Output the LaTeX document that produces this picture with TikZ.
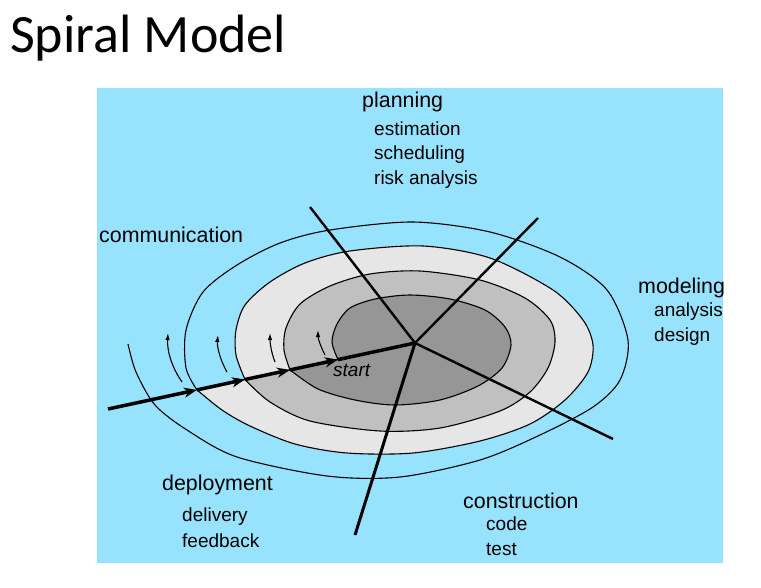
\documentclass[tikz,border=0pt]{standalone}
\usepackage{fontspec}
\setmainfont{Liberation Sans}
\newfontfamily\titlefont{Carlito}
\usetikzlibrary{arrows.meta}
\definecolor{PanelBlue}{HTML}{97E2FC}
\definecolor{RingDark}{HTML}{969696}
\definecolor{RingMid}{HTML}{C0C0C0}
\definecolor{RingLight}{HTML}{E6E6E6}

\begin{document}
\begin{tikzpicture}[x=1pt, y=-1pt,
                    every node/.style={inner sep=0pt, anchor=base west},
                    phasetext/.style={font=\fontsize{21.4}{25}\selectfont},
                    tasktext/.style={font=\fontsize{19}{23}\selectfont},
                    spiralturn/.style={line width=1.1pt, smooth, tension=0.5},
                    radial/.style={line width=2.4pt},
                    entryline/.style={line width=3.5pt, -{Stealth[length=13pt, width=10pt, inset=4pt]}},
                    loopcue/.style={line width=1.1pt, -{Latex[length=7pt, width=4.5pt]}}]
\useasboundingbox (0,0) rectangle (761,587);
\node[font=\titlefont\fontsize{54}{60}\selectfont] (title) at (10,52.3) {Spiral Model};
\fill[PanelBlue] (97,88) rectangle (723,563);
\begin{scope}
\clip (97,88) rectangle (723,563);
\coordinate (entry) at (108,409);
\coordinate (hub) at (415,343);
\coordinate (c0) at (338,359.6);
\coordinate (c1) at (290,369.9);
\coordinate (c2) at (245,379.5);
\coordinate (c3) at (197,389.9);
\coordinate (planEnd) at (310,207);
\coordinate (modelEnd) at (538,218);
\coordinate (buildEnd) at (613,439);
\coordinate (deployEnd) at (355,535);
\filldraw[spiralturn, fill=RingLight] plot coordinates {(c2) (236,355) (236,330) (245,305) (270,282) (305,263)
  (350,251) (423,246) (490,258) (553,290) (583,320) (593,345) (588,372) (565,400) (530,424) (480,441)
  (413,453) (347,453) (295,444) (250,426) (222,410) (c3)} -- cycle;
\filldraw[spiralturn, fill=RingMid] plot coordinates {(c1) (284,350) (286,328) (300,304) (330,286) (370,274)
  (420,271) (480,280) (525,298) (550,320) (555,342) (548,368) (530,392) (500,411) (440,428) (380,431)
  (310,421) (270,402) (c2)} -- cycle;
\filldraw[spiralturn, fill=RingDark] plot coordinates {(c0) (332,342) (337,324) (350,308) (375,299) (410,295)
  (450,299) (485,310) (505,327) (511,345) (502,368) (478,386) (440,400) (395,405) (355,400) (318,389) (c1)} -- cycle;
\draw[spiralturn] plot coordinates {(c3) (186,368) (186,330) (203,292) (237,265) (280,243) (330,230) (413,222)
  (490,232) (560,257) (607,290) (628,340) (620,380) (593,407) (540,435) (480,460) (400,477) (327,476)
  (237,457) (187,430) (155,405) (136,372) (128,344)};
\draw[radial] (hub) -- (planEnd);
\draw[radial] (hub) -- (modelEnd);
\draw[radial] (hub) -- (buildEnd);
\draw[line width=3pt] (hub) -- (deployEnd);
\draw[entryline] (entry) -- (c3);
\draw[entryline] (c3) -- (c2);
\draw[entryline] (c2) -- (c1);
\draw[entryline] (c1) -- (c0);
\draw[line width=3.5pt] (c0) -- (hub);
\draw[loopcue] (182,382) .. controls (171,366) and (167,350) .. (168,333);
\draw[loopcue] (227,372) .. controls (219,358) and (217,345) .. (218,335);
\draw[loopcue] (275,362) .. controls (271,352) and (270,342) .. (270,333);
\draw[loopcue] (325,355) .. controls (320,345) and (318,338) .. (318,330);
\node[phasetext] (planning) at (362,107.3) {planning};
\node[tasktext] (estimation) at ([shift={(12,28)}]planning.base west) {estimation};
\node[tasktext] (scheduling) at ([shift={(0,24.4)}]estimation.base west) {scheduling};
\node[tasktext] (risk) at ([shift={(0,25)}]scheduling.base west) {risk analysis};
\node[phasetext] (modeling) at (638,293.3) {modeling};
\node[tasktext] (analysis) at ([shift={(16,23.4)}]modeling.base west) {analysis};
\node[tasktext] (design) at ([shift={(0,25)}]analysis.base west) {design};
\node[phasetext] (communication) at (99,242.7) {communication};
\node[phasetext] (deployment) at (162,490) {deployment};
\node[tasktext] (delivery) at ([shift={(20,31.7)}]deployment.base west) {delivery};
\node[tasktext] (feedback) at ([shift={(0,25.6)}]delivery.base west) {feedback};
\node[phasetext] (construction) at (463,508.3) {construction};
\node[tasktext] (code) at ([shift={(23,21.7)}]construction.base west) {code};
\node[tasktext] (test) at ([shift={(0,25)}]code.base west) {test};
\node[tasktext, font=\fontsize{19}{23}\selectfont\itshape] (start) at (333,376) {start};
\end{scope}
\end{tikzpicture}
\end{document}
